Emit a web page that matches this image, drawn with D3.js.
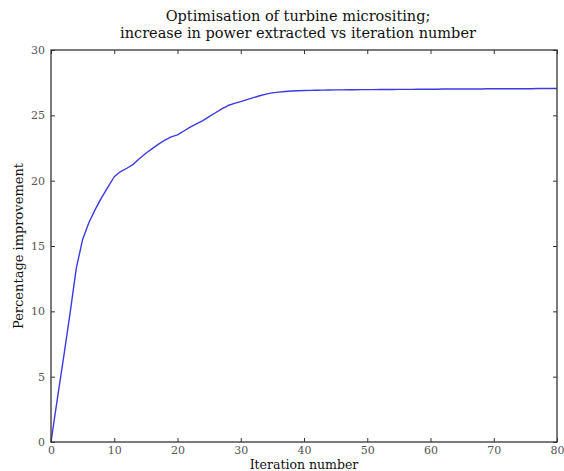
<!DOCTYPE html>
<html><head><meta charset="utf-8">
<script src="https://cdn.jsdelivr.net/npm/d3@7/dist/d3.min.js"></script>
<style>body{margin:0;background:#fff}svg{display:block}</style>
</head><body>
<script>
const titleLines = ["Optimisation of turbine micrositing;", "increase in power extracted vs iteration number"];
const xLabel = "Iteration number";
const yLabel = "Percentage improvement";
const xTicks = [0,10,20,30,40,50,60,70,80];
const yTicks = [0,5,10,15,20,25,30];
const iterations = d3.range(0,81);
const improvement = [
 0, 3.3, 6.5, 9.8, 13.3, 15.5, 16.8, 17.8, 18.7, 19.5,
 20.3, 20.7, 20.95, 21.25, 21.7, 22.1, 22.45, 22.8, 23.1, 23.35,
 23.5, 23.8, 24.1, 24.35, 24.6, 24.9, 25.2, 25.5, 25.75, 25.92,
 26.05, 26.2, 26.35, 26.5, 26.62, 26.72, 26.78, 26.82, 26.86, 26.88,
 26.9, 26.91, 26.92, 26.93, 26.94, 26.95, 26.95, 26.96, 26.96, 26.97,
 26.97, 26.97, 26.98, 26.98, 26.98, 26.99, 26.99, 26.99, 27.0, 27.0,
 27.0, 27.0, 27.01, 27.01, 27.01, 27.02, 27.02, 27.02, 27.02, 27.03,
 27.03, 27.03, 27.03, 27.04, 27.04, 27.04, 27.04, 27.05, 27.05, 27.05, 27.05
];

const W = 564, H = 471;
const m = {left:51, right:7, top:50, bottom:29};
const svg = d3.select("body").append("svg").attr("width",W).attr("height",H);
const x = d3.scaleLinear().domain([0,80]).range([m.left, W-m.right]);
const y = d3.scaleLinear().domain([0,30]).range([H-m.bottom, m.top]);
const serif = "'DejaVu Serif', serif";

// curve
svg.append("path")
  .datum(iterations.map((d,i)=>[d, improvement[i]]))
  .attr("fill","none").attr("stroke","#3a3ae0").attr("stroke-width",1.4)
  .attr("stroke-linejoin","round")
  .attr("d", d3.line().x(d=>x(d[0])).y(d=>y(d[1])));

// axes with inward ticks
const tk = 4;
const gB = svg.append("g").attr("transform",`translate(0,${y(0)})`)
  .call(d3.axisBottom(x).tickValues(xTicks).tickSizeInner(-tk).tickSizeOuter(0).tickPadding(6));
const gT = svg.append("g").attr("transform",`translate(0,${y(30)})`)
  .call(d3.axisTop(x).tickValues(xTicks).tickSizeInner(-tk).tickSizeOuter(0).tickFormat(""));
const gL = svg.append("g").attr("transform",`translate(${x(0)},0)`)
  .call(d3.axisLeft(y).tickValues(yTicks).tickSizeInner(-tk).tickSizeOuter(0).tickPadding(6));
const gR = svg.append("g").attr("transform",`translate(${x(80)},0)`)
  .call(d3.axisRight(y).tickValues(yTicks).tickSizeInner(-tk).tickSizeOuter(0).tickFormat(""));
[gB,gT,gL,gR].forEach(g=>{
  g.select(".domain").remove();
  g.selectAll(".tick line").attr("stroke","#333").attr("stroke-width",1);
  g.selectAll(".tick text").attr("fill","#555").style("font-family",serif).style("font-size","11px");
});
gB.selectAll(".tick text").attr("dy","0.55em");

svg.append("rect").attr("x",x(0)).attr("y",y(30))
  .attr("width",x(80)-x(0)).attr("height",y(0)-y(30))
  .attr("fill","none").attr("stroke","#333").attr("stroke-width",1.3);

// titles
const tx = (x(0)+x(80))/2 - 6;
svg.append("text").attr("x",tx).attr("y",21).attr("text-anchor","middle")
  .style("font-family",serif).style("font-size","14.5px").attr("fill","#111").text(titleLines[0]);
svg.append("text").attr("x",tx).attr("y",38).attr("text-anchor","middle")
  .style("font-family",serif).style("font-size","14.5px").attr("fill","#111").text(titleLines[1]);
svg.append("text").attr("x",(x(0)+x(80))/2).attr("y",469).attr("text-anchor","middle")
  .style("font-family",serif).style("font-size","12.5px").attr("fill","#111").text(xLabel);
svg.append("text").attr("transform",`translate(23,${(y(0)+y(30))/2}) rotate(-90)`).attr("text-anchor","middle")
  .style("font-family",serif).style("font-size","13px").attr("fill","#111").text(yLabel);
</script>
</body></html>
